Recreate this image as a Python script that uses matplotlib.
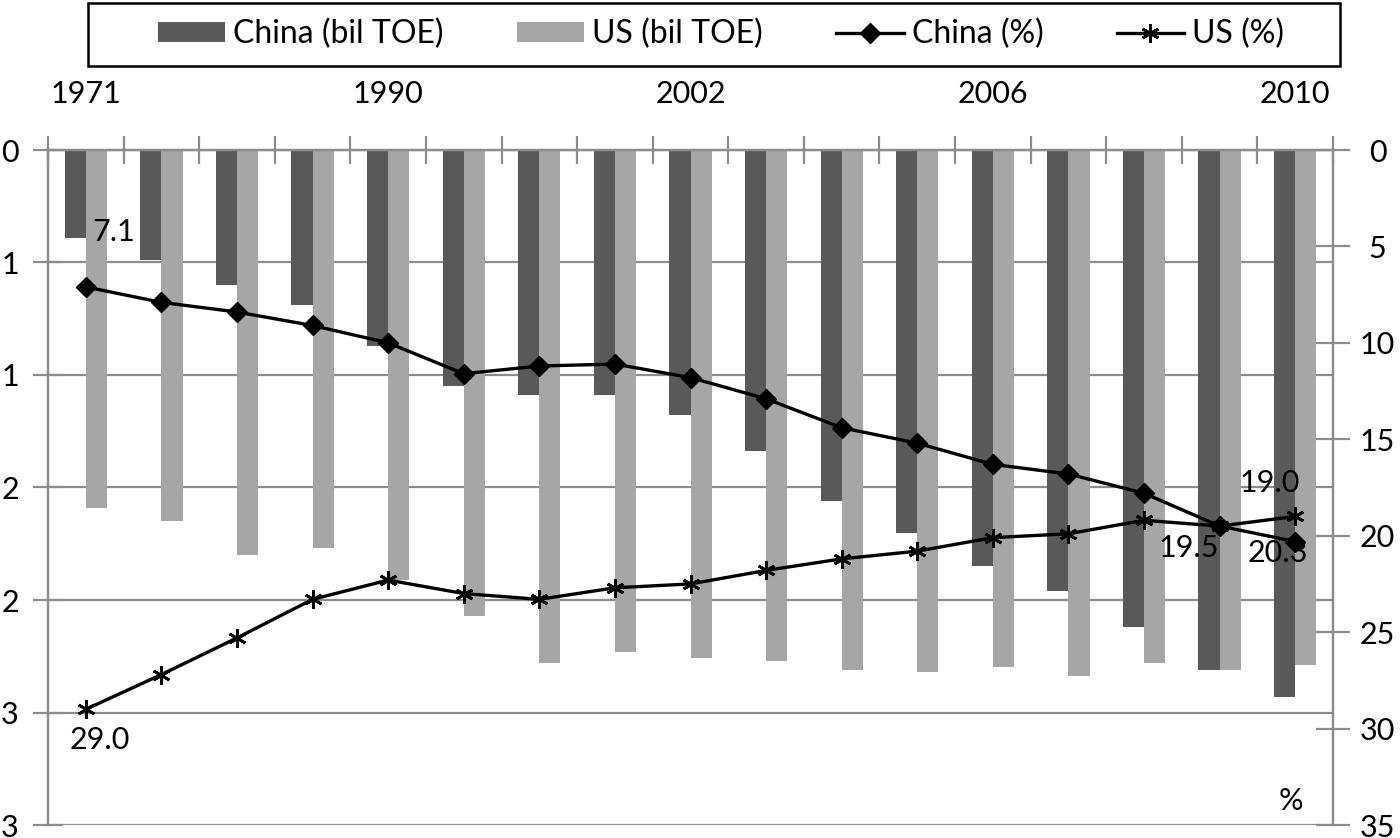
import numpy as np
import matplotlib.pyplot as plt
from matplotlib.patches import Rectangle
from matplotlib.ticker import FixedLocator, NullFormatter

plt.rcParams['font.family'] = ['Lato', 'DejaVu Sans']

years = ['1971', '1975', '1980', '1985', '1990', '1995', '2000', '2001', '2002',
         '2003', '2004', '2005', '2006', '2007', '2008', '2009', '2010']
shown_years = {0: '1971', 4: '1990', 8: '2002', 12: '2006', 16: '2010'}

china_toe = [0.39, 0.49, 0.60, 0.69, 0.87, 1.05, 1.09, 1.09, 1.18,
             1.34, 1.56, 1.70, 1.85, 1.96, 2.12, 2.31, 2.43]
us_toe = [1.59, 1.65, 1.80, 1.77, 1.91, 2.07, 2.28, 2.23, 2.26,
          2.27, 2.31, 2.32, 2.30, 2.34, 2.28, 2.31, 2.29]
china_pct = [7.1, 7.9, 8.4, 9.1, 10.0, 11.6, 11.2, 11.1, 11.8,
             12.9, 14.4, 15.2, 16.3, 16.8, 17.8, 19.5, 20.3]
us_pct = [29.0, 27.2, 25.3, 23.3, 22.3, 23.0, 23.3, 22.7, 22.5,
          21.8, 21.2, 20.8, 20.1, 19.9, 19.2, 19.5, 19.0]

left_ticks = [0, 0.5, 1.0, 1.5, 2.0, 2.5, 3.0]
left_labels = ['0', '1', '1', '2', '2', '3', '3']
right_ticks = [0, 5, 10, 15, 20, 25, 30, 35]

dark = '#595959'
light = '#a6a6a6'
grid = '#8c8c8c'
fs = 22

x = np.arange(len(years))
w = 0.28

fig = plt.figure(figsize=(14, 8.38), dpi=100)
ax = fig.add_axes([48/1400, 1-825/838, (1333-48)/1400, (825-150)/838])
ax2 = ax.twinx()

b1 = ax.bar(x - w/2, china_toe, w, color=dark, label='China (bil TOE)', zorder=2)
b2 = ax.bar(x + w/2, us_toe, w, color=light, label='US (bil TOE)', zorder=2)

l1, = ax2.plot(x, china_pct, color='black', lw=2.4, marker='D', ms=10,
               label='China (%)', zorder=3)
l2, = ax2.plot(x, us_pct, color='black', lw=2.4, marker=(6, 2, 0), ms=13, mew=2,
               label='US (%)', zorder=3)

ax.set_xlim(-0.5, len(years) - 0.5)
ax.set_ylim(3, 0)
ax2.set_ylim(35, 0)

ax.set_yticks(left_ticks)
ax.set_yticklabels(left_labels)
ax2.set_yticks(right_ticks)
ax2.set_yticklabels([str(t) for t in right_ticks], ha='center')
ax.yaxis.grid(True, color=grid, lw=1.6, zorder=0)
ax.set_axisbelow(True)

# x axis on top, ticks between categories, labels on a few years
ax.xaxis.tick_top()
ax.xaxis.set_major_locator(FixedLocator(np.arange(-0.5, len(years), 1.0)))
ax.xaxis.set_major_formatter(NullFormatter())
ax.xaxis.set_minor_locator(FixedLocator(list(shown_years.keys())))
ax.set_xticklabels(list(shown_years.values()), minor=True)
ax.tick_params(axis='x', which='major', direction='inout', length=20, width=1.6,
               color=grid, top=True, bottom=False)
ax.tick_params(axis='x', which='minor', length=0, pad=30, labelsize=fs,
               top=True, bottom=False, labeltop=True, labelbottom=False)

ax.tick_params(axis='y', direction='inout', length=22, width=1.6, color=grid,
               pad=10, labelsize=fs)
ax2.tick_params(axis='y', direction='inout', length=24, width=1.6, color=grid,
                pad=20, labelsize=fs)

for a in (ax, ax2):
    for s in a.spines.values():
        s.set_color(grid)
        s.set_linewidth(1.6)
    a.spines['bottom'].set_visible(False)

# data labels (offsets in display pixels, y up)
ax2.annotate('7.1', (0, china_pct[0]), xytext=(28, 55), textcoords='offset pixels',
             ha='center', va='center', fontsize=fs)
ax2.annotate('29.0', (0, us_pct[0]), xytext=(14, -31), textcoords='offset pixels',
             ha='center', va='center', fontsize=fs)
ax2.annotate('19.5', (15, china_pct[15]), xytext=(-31, -22), textcoords='offset pixels',
             ha='center', va='center', fontsize=fs)
ax2.annotate('20.3', (16, china_pct[16]), xytext=(-17, -12), textcoords='offset pixels',
             ha='center', va='center', fontsize=fs)
ax2.annotate('19.0', (16, us_pct[16]), xytext=(-25, 33), textcoords='offset pixels',
             ha='center', va='center', fontsize=fs)
ax2.text(0.967, 0.035, '%', transform=ax2.transAxes, ha='center', va='center',
         fontsize=fs)

# legend box and entries
fig.patches.append(Rectangle((88/1400, 1-66/838), (1340-88)/1400, 63/838,
                             transform=fig.transFigure, fill=False,
                             edgecolor='black', linewidth=1.8))
fig.legend(handles=[b1, b2, l1, l2], loc='center', ncol=4,
           bbox_to_anchor=(721/1400, 1-34/838), fontsize=23, frameon=False,
           handlelength=2.1, handleheight=0.6, borderaxespad=0,
           columnspacing=2.3, handletextpad=0.25)

fig.savefig('out.png', dpi=100)
